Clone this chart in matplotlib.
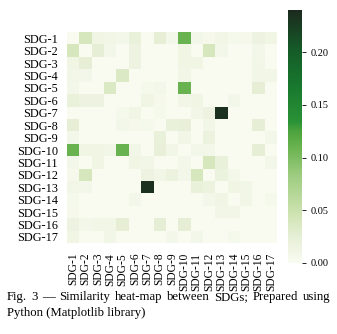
import numpy as np
import matplotlib
matplotlib.use("Agg")
import matplotlib.pyplot as plt
from matplotlib.colors import LinearSegmentedColormap

plt.rcParams['font.family'] = 'serif'
plt.rcParams['font.serif'] = ['Liberation Serif', 'DejaVu Serif']

labels = ["SDG-%d" % i for i in range(1, 18)]

# similarity between goal pairs (i, j), 0-based, matrix is symmetric
pairs = [
    (0, 1, 0.040), (0, 2, 0.012), (0, 3, 0.010), (0, 4, 0.008), (0, 5, 0.020),
    (0, 7, 0.025), (0, 8, 0.008), (0, 9, 0.110), (0, 10, 0.008), (0, 11, 0.006),
    (0, 12, 0.010), (0, 13, 0.005), (0, 14, 0.006), (0, 15, 0.015), (0, 16, 0.012),
    (1, 2, 0.025), (1, 3, 0.008), (1, 5, 0.015), (1, 9, 0.012), (1, 11, 0.040),
    (1, 12, 0.008), (1, 15, 0.008),
    (2, 5, 0.015), (2, 9, 0.012), (2, 10, 0.012), (2, 15, 0.010),
    (3, 4, 0.035), (3, 9, 0.010), (3, 15, 0.010), (3, 16, 0.010),
    (4, 6, 0.005), (4, 7, 0.008), (4, 9, 0.110), (4, 15, 0.025),
    (5, 6, 0.012), (5, 7, 0.006), (5, 9, 0.010), (5, 10, 0.012), (5, 13, 0.008),
    (6, 7, 0.005), (6, 10, 0.010), (6, 11, 0.015), (6, 12, 0.235),
    (7, 8, 0.020), (7, 9, 0.022), (7, 11, 0.010), (7, 15, 0.025),
    (8, 9, 0.010), (8, 11, 0.018), (8, 16, 0.008),
    (9, 10, 0.008), (9, 11, 0.008), (9, 15, 0.025),
    (10, 11, 0.040), (10, 12, 0.020), (10, 16, 0.008),
    (11, 12, 0.018), (11, 13, 0.008),
    (12, 13, 0.012), (12, 14, 0.010),
    (13, 14, 0.010), (13, 16, 0.005),
]

caption_1 = "Fig. 3 \u2014 Similarity heat-map between SDGs; Prepared using"
caption_2 = "Python (Matplotlib library)"

n = len(labels)
sim = np.zeros((n, n))
for i, j, v in pairs:
    sim[i, j] = v
    sim[j, i] = v

vmax = 0.24
cmap = LinearSegmentedColormap.from_list("sdg_greens", [
    (0.00, "#f9fbf1"),
    (0.10, "#e6efd6"),
    (0.20, "#cde2b0"),
    (0.35, "#9ccb7e"),
    (0.45, "#6cb452"),
    (0.52, "#4ea43e"),
    (0.56, "#2a9236"),
    (0.70, "#18782e"),
    (0.85, "#155a28"),
    (1.00, "#1c2a1e"),
])

fig = plt.figure(figsize=(3.37, 3.34), dpi=100)
ax = fig.add_axes([0.199, 0.272, 0.623, 0.632])
cax = fig.add_axes([0.855, 0.2126, 0.041, 0.757])

mesh = ax.pcolormesh(sim, cmap=cmap, vmin=0, vmax=vmax)
ax.set_xlim(0, n)
ax.set_ylim(n, 0)
ax.set_xticks(np.arange(n) + 0.5)
ax.set_yticks(np.arange(n) + 0.5)
ax.set_xticklabels(labels, rotation=90, fontsize=8.3)
ax.set_yticklabels(labels, fontsize=8.8)
ax.tick_params(axis='both', length=0)
ax.tick_params(axis='y', pad=6.5)
ax.tick_params(axis='x', pad=7)
for s in ax.spines.values():
    s.set_visible(False)

cb = fig.colorbar(mesh, cax=cax, ticks=[0.0, 0.05, 0.10, 0.15, 0.20])
cb.outline.set_linewidth(0)
cb.ax.tick_params(labelsize=7.4, length=3, width=0.6)
cb.ax.set_yticklabels(["0.00", "0.05", "0.10", "0.15", "0.20"])


def justified(text, y, x0, x1, size):
    # spread the words so the line fills x0..x1 (figure fraction)
    words = text.split(" ")
    r = fig.canvas.get_renderer()
    arts = [fig.text(0, y, w, fontsize=size, ha='left', va='center') for w in words]
    widths = [a.get_window_extent(r).width / fig.bbox.width for a in arts]
    gap = (x1 - x0 - sum(widths)) / (len(words) - 1)
    x = x0
    for a, w in zip(arts, widths):
        a.set_x(x)
        x += w + gap


justified(caption_1, 0.111, 0.02, 0.98, 9.2)
fig.text(0.02, 0.063, caption_2, fontsize=9.2, ha='left', va='center')

fig.savefig("out.png", dpi=100)
